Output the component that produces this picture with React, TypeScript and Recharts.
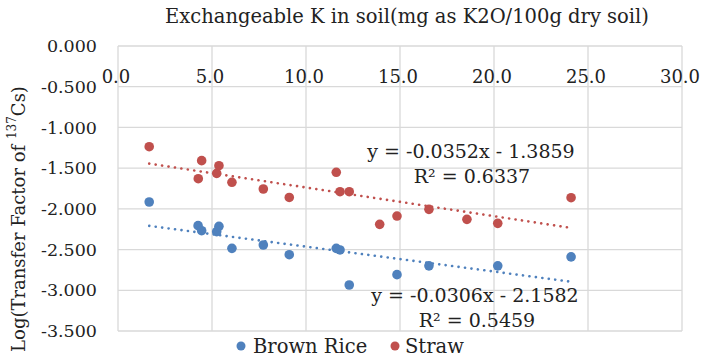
import {
  ScatterChart,
  Scatter,
  XAxis,
  YAxis,
  CartesianGrid,
  ReferenceLine,
} from "recharts";

// Brown rice: exchangeable K vs log(TF)
const riceK = [1.66, 4.26, 4.45, 5.25, 5.37, 6.06, 7.73, 9.11, 11.61, 11.81, 12.3, 14.84, 16.54, 20.2, 24.1];
const riceTF = [-1.916, -2.206, -2.268, -2.28, -2.215, -2.485, -2.444, -2.563, -2.485, -2.505, -2.935, -2.808, -2.7, -2.7, -2.59];

// Straw
const strawK = [1.66, 4.27, 4.45, 5.25, 5.37, 6.06, 7.73, 9.11, 11.61, 11.81, 12.3, 13.92, 14.84, 16.54, 18.56, 20.2, 24.1];
const strawTF = [-1.237, -1.63, -1.408, -1.564, -1.47, -1.674, -1.756, -1.86, -1.551, -1.789, -1.789, -2.19, -2.088, -2.006, -2.129, -2.178, -1.863];

// trendline coefficients [slope, intercept, r2]
const riceFit = [-0.0306, -2.1582, 0.5459];
const strawFit = [-0.0352, -1.3859, 0.6337];

const xTicks = [0, 5, 10, 15, 20, 25, 30];
const yTicks = [0, -0.5, -1, -1.5, -2, -2.5, -3, -3.5];

const BLUE = "#4f81bd";
const RED = "#c0504d";
const FONT = "DejaVu Serif";

const toPts = (xs: number[], ys: number[]) => xs.map((x, i) => ({ x, y: ys[i] }));

const fitSegment = (xs: number[], fit: number[]) => {
  const x0 = Math.min(...xs);
  const x1 = Math.max(...xs);
  return [
    { x: x0, y: fit[0] * x0 + fit[1] },
    { x: x1, y: fit[0] * x1 + fit[1] },
  ];
};

const dot = (color: string) => (p: any) => (
  <circle cx={p.cx} cy={p.cy} r={4.8} fill={color} />
);

const eq = (fit: number[]) =>
  `y = ${fit[0].toFixed(4)}x - ${Math.abs(fit[1]).toFixed(4)}`;

export default function App() {
  return (
    <div style={{ position: "absolute", left: 0, top: 0, width: 701, height: 359, background: "#fff" }}>
      <ScatterChart
        width={701}
        height={359}
        margin={{ top: 16, right: 19, bottom: 28, left: 0 }}
      >
        <CartesianGrid stroke="#d9d9d9" strokeWidth={1.3} />
        <XAxis
          type="number"
          dataKey="x"
          orientation="top"
          domain={[0, 30]}
          ticks={xTicks}
          height={30}
          axisLine={false}
          tickLine={false}
          tick={(p: any) => (
            <text
              x={p.x - 2}
              y={76}
              textAnchor="middle"
              dominantBaseline="central"
              fontFamily={FONT}
              fontSize={18}
              fill="#222"
            >
              {Number(p.payload.value).toFixed(1)}
            </text>
          )}
        />
        <YAxis
          type="number"
          dataKey="y"
          domain={[-3.5, 0]}
          ticks={yTicks}
          width={118}
          axisLine={false}
          tickLine={false}
          tickSize={0}
          tickMargin={21}
          tickFormatter={(v: number) => v.toFixed(3)}
          tick={{ fontFamily: FONT, fontSize: 17.5, fill: "#222" }}
        />
        <ReferenceLine
          segment={fitSegment(strawK, strawFit)}
          stroke={RED}
          strokeWidth={2.6}
          strokeDasharray="0.1 6.4"
          strokeLinecap="round"
        />
        <ReferenceLine
          segment={fitSegment(riceK, riceFit)}
          stroke={BLUE}
          strokeWidth={2.6}
          strokeDasharray="0.1 6.4"
          strokeLinecap="round"
        />
        <Scatter
          name="Brown Rice"
          data={toPts(riceK, riceTF)}
          fill={BLUE}
          shape={dot(BLUE)}
          isAnimationActive={false}
        />
        <Scatter
          name="Straw"
          data={toPts(strawK, strawTF)}
          fill={RED}
          shape={dot(RED)}
          isAnimationActive={false}
        />
      </ScatterChart>
      <svg
        width={701}
        height={359}
        style={{ position: "absolute", left: 0, top: 0, pointerEvents: "none" }}
        fontFamily={FONT}
        fill="#222"
      >
        <text x={407} y={16} textAnchor="middle" dominantBaseline="central" fontSize={19.5}>
          Exchangeable K in soil(mg as K2O/100g dry soil)
        </text>
        <text
          transform="translate(18,219) rotate(-90)"
          textAnchor="middle"
          dominantBaseline="central"
          fontSize={18}
        >
          Log(Transfer Factor of <tspan fontSize={12} dy={-6}>137</tspan>
          <tspan dy={6}>Cs)</tspan>
        </text>
        <text x={471} y={151} textAnchor="middle" dominantBaseline="central" fontSize={19}>
          {eq(strawFit)}
        </text>
        <text x={472} y={176} textAnchor="middle" dominantBaseline="central" fontSize={19}>
          {`R² = ${strawFit[2].toFixed(4)}`}
        </text>
        <text x={475} y={295} textAnchor="middle" dominantBaseline="central" fontSize={19}>
          {eq(riceFit)}
        </text>
        <text x={477} y={320} textAnchor="middle" dominantBaseline="central" fontSize={19}>
          {`R² = ${riceFit[2].toFixed(4)}`}
        </text>
        <circle cx={241} cy={346} r={4.5} fill={BLUE} />
        <text x={253} y={346} dominantBaseline="central" fontSize={19.5}>
          Brown Rice
        </text>
        <circle cx={395} cy={346} r={4.5} fill={RED} />
        <text x={405} y={346} dominantBaseline="central" fontSize={19.5}>
          Straw
        </text>
      </svg>
    </div>
  );
}
